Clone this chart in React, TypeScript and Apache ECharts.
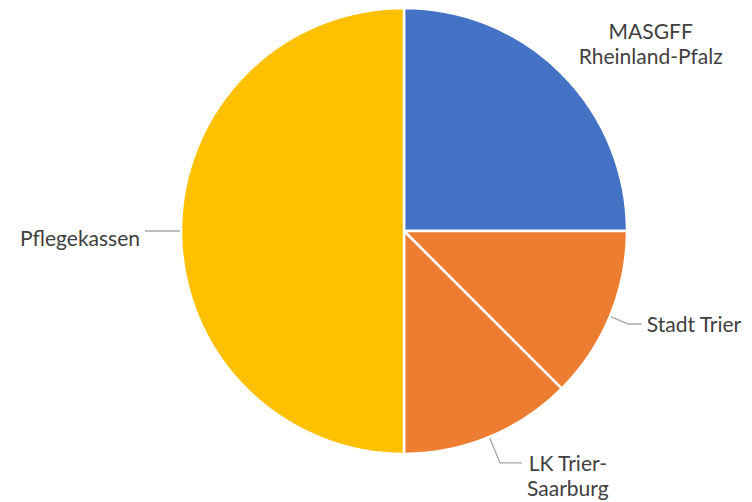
import React, { useEffect, useRef } from "react";
import * as echarts from "echarts";

const categories = ["MASGFF\nRheinland-Pfalz", "Stadt Trier", "LK Trier-\nSaarburg", "Pflegekassen"];
const values = [25, 12.5, 12.5, 50];
const colors = ["#4472C4", "#ED7D31", "#ED7D31", "#FFC000"];

const lineLengths = [
  { length: 0, length2: 0, show: false },
  { length: 20, length2: 13, show: true },
  { length: 28, length2: 22, show: true },
  { length: 18, length2: 18, show: true },
];

export default function App() {
  const ref = useRef<HTMLDivElement>(null);
  useEffect(() => {
    if (!ref.current) return;
    const chart = echarts.init(ref.current, undefined, { renderer: "svg" });
    const data = categories.map((name, i) => ({
      name,
      value: values[i],
      itemStyle: { color: colors[i] },
      labelLine: { show: lineLengths[i].show, length: lineLengths[i].length, length2: lineLengths[i].length2 },
    }));
    const font = "Lato, 'Noto Sans', sans-serif";
    chart.setOption({
      animation: false,
      backgroundColor: "#ffffff",
      series: [
        {
          type: "pie",
          center: [404, 231],
          radius: 223,
          startAngle: 90,
          clockwise: true,
          avoidLabelOverlap: false,
          itemStyle: { borderColor: "#ffffff", borderWidth: 2.5 },
          label: {
            show: true,
            position: "outside",
            color: "#404040",
            fontFamily: font,
            fontSize: 21,
            lineHeight: 25,
            distanceToLabelLine: 5,
            formatter: (p: any) =>
              String(p.name)
                .split("\n")
                .map((l: string) => `{c|${l}}`)
                .join("\n"),
            rich: {
              c: {
                align: "center",
                color: "#404040",
                fontFamily: font,
                fontSize: 21,
                lineHeight: 25,
              },
            },
          },
          labelLine: {
            lineStyle: { color: "#A6A6A6", width: 1.3 },
          },
          labelLayout: (p: any) => {
            if (p.dataIndex === 0) return { dx: 12, dy: -30 };
            if (p.dataIndex === 2) return { dy: 12 };
            if (p.dataIndex === 3) return { dy: 6 };
            return {};
          },
          emphasis: { disabled: true },
          data,
        },
      ],
    });
    return () => chart.dispose();
  }, []);
  return (
    <div
      ref={ref}
      style={{ position: "fixed", left: 0, top: 0, width: 752, height: 502, background: "#fff" }}
    />
  );
}
